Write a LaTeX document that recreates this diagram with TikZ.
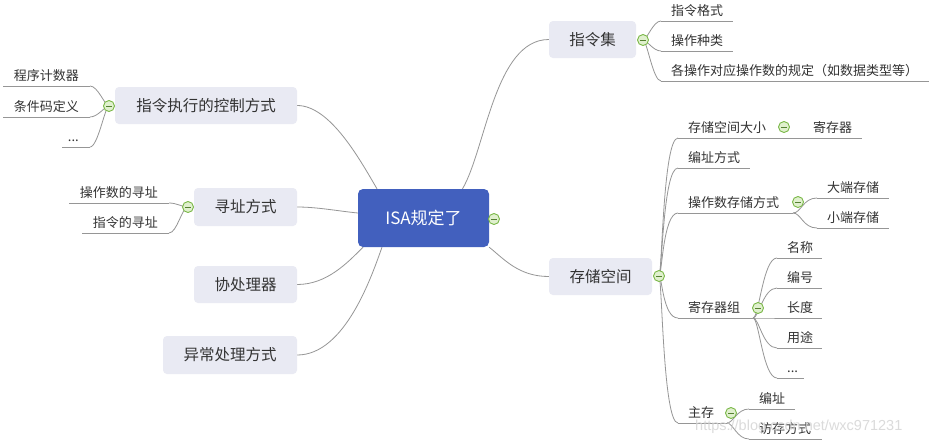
\documentclass[tikz,border=0pt]{standalone}
\usepackage{fontspec}
\newfontfamily\cjk{Noto Sans CJK SC}
\newfontfamily\wmfont{Liberation Sans}
\usetikzlibrary{calc}
\pgfdeclarelayer{background}
\pgfdeclarelayer{canvas}
\pgfsetlayers{canvas,background,main}
\definecolor{rootblue}{RGB}{66,96,190}
\definecolor{boxfill}{RGB}{233,234,243}
\definecolor{txt}{RGB}{51,51,51}
\definecolor{linegray}{RGB}{150,150,150}
\definecolor{cgreen}{RGB}{122,184,72}
\definecolor{cfill}{RGB}{224,240,206}
\tikzset{
 topic/.style={fill=boxfill, rounded corners=4pt, text=txt, font=\cjk\fontsize{15.5}{18}\selectfont, inner sep=0pt},
 roottopic/.style={fill=rootblue, rounded corners=5pt, text=white, font=\cjk\fontsize{17}{20}\selectfont, inner sep=0pt, minimum width=131pt, minimum height=58pt},
 leaf/.style={text=txt, font=\cjk\fontsize{13}{15}\selectfont, inner sep=0pt},
 uline/.style={draw=linegray, line width=1pt},
 conn/.style={draw=linegray, line width=0.8pt},
 fold/.style={circle, draw=cgreen, fill=cfill, line width=0.9pt, minimum size=11pt, inner sep=0pt,
   path picture={\draw[cgreen!70!black, line width=1pt] ([xshift=-3pt]path picture bounding box.center) -- ([xshift=3pt]path picture bounding box.center);}},
}
% right leaf: name, x1, x2, y(underline), text
\newcommand\rleaf[5]{%
  \coordinate (#1a) at (#2,#4);
  \coordinate (#1b) at (#3,#4);
  \draw[uline] (#1a) -- (#1b);
  \node[leaf,anchor=base west] (#1) at (#2+10,#4-6) {#5};
}
% left leaf: text right-aligned
\newcommand\lleaf[5]{%
  \coordinate (#1a) at (#2,#4);
  \coordinate (#1b) at (#3,#4);
  \draw[uline] (#1a) -- (#1b);
  \node[leaf,anchor=base east] (#1) at (#3-11,#4-6) {#5};
}
\begin{document}
\begin{tikzpicture}[x=1pt,y=-1pt]
\begin{pgfonlayer}{canvas}
\fill[white] (0,0) rectangle (929,445);
\end{pgfonlayer}
\useasboundingbox (0,0) rectangle (929,445);

% main topics
\node[roottopic] (root) at (423.5,218) {ISA规定了};
\node[topic, minimum width=87pt, minimum height=37pt] (zl) at (592.5,39.5) {指令集};
\node[topic, minimum width=182pt, minimum height=37pt] (kz) at (206,105.5) {指令执行的控制方式};
\node[topic, minimum width=103pt, minimum height=38pt] (xz) at (245.5,207) {寻址方式};
\node[topic, minimum width=103pt, minimum height=37pt] (xc) at (245.5,284.5) {协处理器};
\node[topic, minimum width=134pt, minimum height=38pt] (yc) at (230,355) {异常处理方式};
\node[topic, minimum width=103pt, minimum height=37pt] (cc) at (600.5,276.5) {存储空间};

% leaves
\rleaf{z1}{661}{733}{21}{指令格式}
\rleaf{z2}{661}{733}{51}{操作种类}
\rleaf{z3}{661}{929}{81}{各操作对应操作数的规定（如数据类型等）}

\lleaf{k1}{3}{90}{86}{程序计数器}
\lleaf{k2}{3}{90}{117}{条件码定义}
\lleaf{k3}{62}{90}{147}{...}

\lleaf{x1}{69}{169}{203}{操作数的寻址}
\lleaf{x2}{82}{169}{233}{指令的寻址}

\rleaf{s1}{678}{795}{138}{存储空间大小}
\rleaf{reg}{803}{862}{138}{寄存器}
\rleaf{s2}{678}{750}{168}{编址方式}
\rleaf{s3}{678}{793}{213}{操作数存储方式}
\rleaf{big}{817}{889}{198}{大端存储}
\rleaf{small}{817}{889}{228}{小端存储}
\rleaf{s4}{678}{753}{318}{寄存器组}
\rleaf{r1}{777}{822}{258}{名称}
\rleaf{r2}{777}{822}{288}{编号}
\rleaf{r3}{777}{822}{318}{长度}
\rleaf{r4}{777}{822}{348}{用途}
\rleaf{r5}{777}{804}{378}{...}
\rleaf{s5}{678}{727}{423}{主存}
\rleaf{m1}{749}{795}{409}{编址}
\rleaf{m2}{749}{822}{439}{访存方式}

% fold circles
\node[fold] (froot) at (494,219) {};
\node[fold] (fzl) at (643,40) {};
\node[fold] (fkz) at (109,106) {};
\node[fold] (fxz) at (188,207) {};
\node[fold] (fcc) at (659,276) {};
\node[fold] (fs1) at (784,127) {};
\node[fold] (fs3) at (798,202) {};
\node[fold] (fs4) at (758,308) {};
\node[fold] (fs5) at (731,413) {};

\begin{pgfonlayer}{background}
% root connectors
\draw[conn] ([xshift=39pt]root.north) .. controls +(23,-39) and +(-54,0) .. (zl.west);
\draw[conn] (root.south east) .. controls +(15,12) and +(-30,0) .. (cc.west);
\draw[conn] ([xshift=-46.5pt]root.north) .. controls +(-17,-29) and +(33,0) .. (kz.east);
\draw[conn] ([yshift=5pt]root.west) .. controls +(-20,-2) and +(20,0) .. (xz.east);
\draw[conn] ([xshift=-60.5pt]root.south) .. controls +(-15,15) and +(30,0) .. (xc.east);
\draw[conn] ([xshift=-41.5pt]root.south) .. controls +(-10,28) and +(48,0) .. (yc.east);
% 指令集
\foreach \n in {z1,z2,z3}
  \draw[conn] (fzl.center) .. controls +(4,0) and +(-8,0) .. (\n a);
% 指令执行的控制方式
\foreach \n in {k1,k2,k3}
  \draw[conn] (fkz.center) .. controls +(-4,0) and +(8,0) .. (\n b);
% 寻址方式
\foreach \n in {x1,x2}
  \draw[conn] (fxz.center) .. controls +(-6,0) and +(8,0) .. (\n b);
% 存储空间
\foreach \n in {s1,s2,s3,s4,s5}
  \draw[conn] (fcc.center) .. controls +(3,0) and +(-15,0) .. (\n a);
\draw[uline] (s1b) -- (rega);
\foreach \n in {big,small}
  \draw[conn] (s3b) .. controls +(8,0) and +(-14,0) .. (\n a);
\foreach \n in {r1,r2,r3,r4,r5}
  \draw[conn] (s4b) .. controls +(6,0) and +(-14,0) .. (\n a);
\foreach \n in {m1,m2}
  \draw[conn] (s5b) .. controls +(6,0) and +(-12,0) .. (\n a);
\end{pgfonlayer}

% watermark
\node[font=\wmfont\fontsize{14.5}{17}\selectfont, text=gray!35, opacity=0.8, anchor=west, inner sep=0pt] (wm) at (695,427) {https://blog.csdn.net/wxc971231};
\end{tikzpicture}
\end{document}
